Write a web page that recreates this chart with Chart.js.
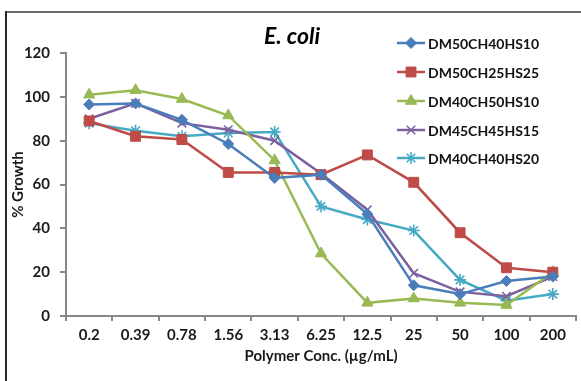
<!DOCTYPE html>
<html>
<head>
<meta charset="utf-8">
<script src="https://cdn.jsdelivr.net/npm/chart.js@4/dist/chart.umd.min.js"></script>
<style>
  html, body { margin: 0; padding: 0; background: #fff; }
  #wrap { width: 581px; height: 381px; overflow: hidden; position: relative; }
  canvas { display: block; }
</style>
</head>
<body>
<div id="wrap"><canvas id="growthChart" width="584" height="381"></canvas></div>
<script>
// polymer concentrations (µg/mL)
const concLabels = ['0.2', '0.39', '0.78', '1.56', '3.13', '6.25', '12.5', '25', '50', '100', '200'];

// % growth per polymer
const dm50ch40hs10 = [96.5, 97, 89.5, 78.5, 63, 64.5, 46.5, 14, 10, 16, 18];
const dm50ch25hs25 = [89, 82, 80.5, 65.5, 65.5, 64.5, 73.5, 61, 38, 22, 20];
const dm40ch50hs10 = [101, 103, 99, 91.5, 71, 28.5, 6, 8, 6, 5, 20];
const dm45ch45hs15 = [90, 97, 88, 85, 80, 65, 48.5, 19.5, 11, 9, 18];
const dm40ch40hs20 = [88, 84.5, 82, 83.5, 84, 50, 44, 39, 16.5, 7, 10];

const yTicks = [0, 20, 40, 60, 80, 100, 120];

const FONT = 'Lato, "Open Sans", sans-serif';
const AXIS_GREY = '#878787';
const TEXT = '#1a1a1a';

function series(label, data, color, pointStyle, radius, filled) {
    return {
        label: label,
        data: data,
        borderColor: color,
        backgroundColor: color,
        borderWidth: 2.5,
        pointStyle: pointStyle,
        pointRadius: radius,
        pointHoverRadius: radius,
        pointBackgroundColor: color,
        pointBorderColor: color,
        pointBorderWidth: filled ? 1 : 1.6,
        tension: 0
    };
}

// frame around the figure plus the hand-placed legend on the right
const framePlugin = {
    id: 'frameAndLegend',
    afterDraw(chart) {
        const ctx = chart.ctx;
        ctx.save();
        ctx.strokeStyle = '#6e6e6e';
        ctx.lineWidth = 2;
        ctx.beginPath();
        ctx.moveTo(5, 12);
        ctx.lineTo(581, 12);
        ctx.stroke();
        ctx.strokeStyle = '#2a2a2a';
        ctx.beginPath();
        ctx.moveTo(6, 11);
        ctx.lineTo(6, 381);
        ctx.stroke();

        const rowY = [43, 72, 101, 130, 158];
        chart.data.datasets.forEach((ds, i) => {
            const y = rowY[i];
            ctx.strokeStyle = ds.borderColor;
            ctx.lineWidth = 2.5;
            ctx.beginPath();
            ctx.moveTo(397, y);
            ctx.lineTo(425, y);
            ctx.stroke();
            ctx.fillStyle = ds.pointBackgroundColor;
            ctx.strokeStyle = ds.pointBorderColor;
            ctx.lineWidth = ds.pointBorderWidth;
            Chart.helpers.drawPoint(ctx, {
                pointStyle: ds.pointStyle,
                radius: ds.pointRadius,
                rotation: 0,
                borderWidth: ds.pointBorderWidth
            }, 411, y);
            ctx.fillStyle = '#111';
            ctx.font = 'bold 14px ' + FONT;
            ctx.textAlign = 'left';
            ctx.textBaseline = 'middle';
            ctx.fillText(ds.label, 428, y + 1);
        });
        ctx.restore();
    }
};

const ctx = document.getElementById('growthChart').getContext('2d');
new Chart(ctx, {
    type: 'line',
    data: {
        labels: concLabels,
        datasets: [
            series('DM50CH40HS10', dm50ch40hs10, '#4a7ebb', 'rectRot', 5.5, true),
            series('DM50CH25HS25', dm50ch25hs25, '#be4b48', 'rect', 7, true),
            series('DM40CH50HS10', dm40ch50hs10, '#98b954', 'triangle', 6.5, true),
            series('DM45CH45HS15', dm45ch45hs15, '#7d60a0', 'crossRot', 6, false),
            series('DM40CH40HS20', dm40ch40hs20, '#46aac5', 'star', 6, false)
        ]
    },
    options: {
        responsive: false,
        animation: false,
        devicePixelRatio: 1,
        layout: { padding: { left: 0, right: 0, top: 0, bottom: 0 } },
        plugins: {
            legend: { display: false },
            tooltip: { enabled: false },
            title: {
                display: true,
                text: 'E. coli',
                color: '#000',
                font: { family: FONT, size: 23, weight: 'bold', style: 'italic' },
                padding: { top: 23, bottom: 2.4 }
            }
        },
        scales: {
            x: {
                offset: true,
                grid: {
                    offset: true,
                    drawOnChartArea: false,
                    color: AXIS_GREY,
                    tickLength: 5,
                    lineWidth: 2
                },
                border: { color: AXIS_GREY, width: 2 },
                ticks: {
                    color: TEXT,
                    padding: 5,
                    maxRotation: 0,
                    autoSkip: false,
                    font: { family: FONT, size: 15, weight: 'bold' }
                },
                title: {
                    display: true,
                    text: 'Polymer Conc. (µg/mL)',
                    color: TEXT,
                    font: { family: FONT, size: 15, weight: 'bold' },
                    padding: { top: 0, bottom: 16 }
                },
                afterFit(scale) { scale.height = 65; }
            },
            y: {
                min: yTicks[0],
                max: yTicks[yTicks.length - 1],
                afterBuildTicks(scale) { scale.ticks = yTicks.map(v => ({ value: v })); },
                grid: {
                    drawOnChartArea: false,
                    color: AXIS_GREY,
                    tickLength: 6,
                    lineWidth: 2
                },
                border: { color: AXIS_GREY, width: 2 },
                ticks: {
                    color: TEXT,
                    padding: 10,
                    font: { family: FONT, size: 15, weight: 'bold' }
                },
                title: {
                    display: true,
                    text: '% Growth',
                    color: TEXT,
                    font: { family: FONT, size: 15, weight: 'bold' },
                    padding: { top: 9, bottom: 0 }
                },
                afterFit(scale) { scale.width = 66; }
            }
        }
    },
    plugins: [framePlugin]
});
</script>
</body>
</html>
